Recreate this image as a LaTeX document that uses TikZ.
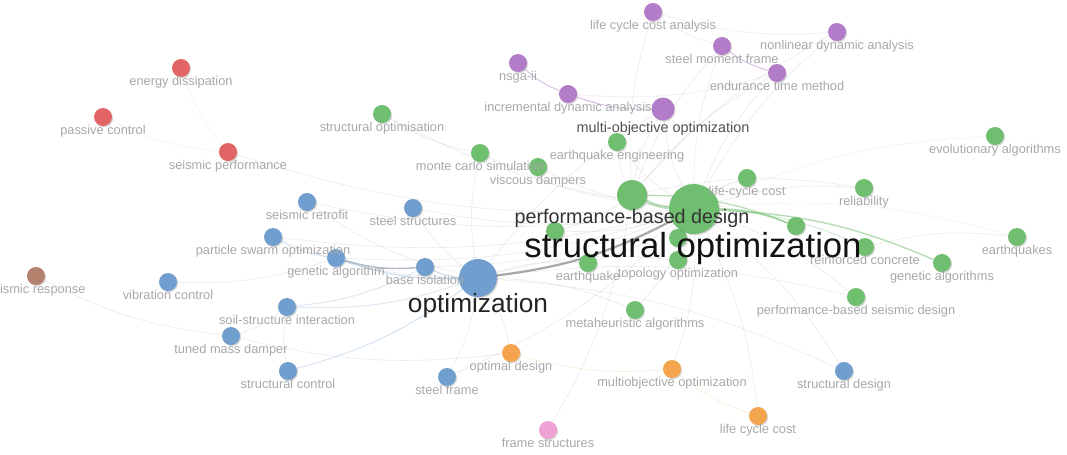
\documentclass[tikz,border=0pt]{standalone}
\usepackage{fontspec}
\setmainfont{Liberation Sans}
\usetikzlibrary{shadows}

% cluster colours
\definecolor{cred}{RGB}{226,100,100}
\definecolor{cpurple}{RGB}{178,124,200}
\definecolor{cgreen}{RGB}{112,190,112}
\definecolor{cblue}{RGB}{112,158,206}
\definecolor{corange}{RGB}{244,164,76}
\definecolor{cpink}{RGB}{238,162,212}
\definecolor{cbrown}{RGB}{180,130,108}
\definecolor{labgray}{RGB}{168,168,168}
\definecolor{edgegray}{RGB}{190,190,190}

\pgfdeclarelayer{edges}
\pgfsetlayers{edges,main}

\begin{document}
\begin{tikzpicture}[x=0.75pt,y=-0.75pt,
  kw/.style={circle,inner sep=0pt,minimum size=13.5pt,
    drop shadow={shadow xshift=0.8pt,shadow yshift=-0.9pt,opacity=0.16,fill=black}},
  kmo/.style={kw,minimum size=17.25pt},
  kpb/.style={kw,minimum size=22.5pt},
  kop/.style={kw,minimum size=28.5pt},
  kso/.style={kw,minimum size=37.5pt},
  lab/.style={anchor=base,inner sep=0pt,yshift=-13.1pt,text=labgray,
    font=\fontsize{9.6}{11}\selectfont},
  labmo/.style={anchor=base,inner sep=0pt,yshift=-17.25pt,text=black!68,
    font=\fontsize{10.8}{12}\selectfont},
  labpb/.style={anchor=base,inner sep=0pt,yshift=-21pt,text=black!80,
    font=\fontsize{14.8}{17}\selectfont},
  labop/.style={anchor=base,inner sep=0pt,yshift=-25.5pt,text=black!86,
    font=\fontsize{19.7}{22}\selectfont},
  labso/.style={anchor=base,inner sep=0pt,yshift=-36pt,xshift=-0.75pt,text=black!93,
    font=\fontsize{26}{30}\selectfont},
  e/.style={draw=edgegray,draw opacity=0.33,line width=0.45pt,bend right=10},
  er/.style={e,draw=cred,draw opacity=0.1},
  ep/.style={e,draw=cpurple,draw opacity=0.5,line width=0.7pt},
  eg/.style={e,draw=cgreen,draw opacity=0.5,line width=1.1pt},
  eb/.style={e,draw=cblue,draw opacity=0.4,line width=0.8pt},
  eo/.style={e,draw=corange,draw opacity=0.18,line width=0.6pt},
]
\useasboundingbox (0,0) rectangle (1067,454);

% ---- red cluster
\node[kw,fill=cred] (ed) at (181,68) {};
\node[kw,fill=cred] (pc) at (103,117) {};
\node[kw,fill=cred] (sp) at (228,152) {};

% ---- purple cluster
\node[kw,fill=cpurple] (lcca) at (653,12) {};
\node[kw,fill=cpurple] (smf) at (722,46) {};
\node[kw,fill=cpurple] (nda) at (837,32) {};
\node[kw,fill=cpurple] (etm) at (777,73) {};
\node[kw,fill=cpurple] (nsga) at (518,63) {};
\node[kw,fill=cpurple] (ida) at (568,94) {};
\node[kmo,fill=cpurple] (moo) at (663,109) {};

% ---- green cluster
\node[kw,fill=cgreen] (sop) at (382,114) {};
\node[kw,fill=cgreen] (mcs) at (480,153) {};
\node[kw,fill=cgreen] (vd) at (538,167) {};
\node[kw,fill=cgreen] (eqe) at (617,142) {};
\node[kw,fill=cgreen] (lcc) at (747,178) {};
\node[kw,fill=cgreen] (rel) at (864,188) {};
\node[kw,fill=cgreen] (eva) at (995,136) {};
\node[kw,fill=cgreen] (eqs) at (1017,237) {};
\node[kw,fill=cgreen] (rc) at (865,247) {};
\node[kw,fill=cgreen] (gas) at (942,263) {};
\node[kw,fill=cgreen] (g1) at (796,226) {};
\node[kw,fill=cgreen] (g2) at (555,231) {};
\node[kw,fill=cgreen] (g3) at (678,238) {};
\node[kw,fill=cgreen] (eq) at (588,263) {};
\node[kw,fill=cgreen] (topo) at (678,260) {};
\node[kw,fill=cgreen] (meta) at (635,310) {};
\node[kw,fill=cgreen] (pbsd) at (856,297) {};
\node[kpb,fill=cgreen] (pbd) at (632,195) {};
\node[kso,fill=cgreen] (so) at (694,209) {};

% ---- blue cluster
\node[kw,fill=cblue] (sr) at (307,202) {};
\node[kw,fill=cblue] (sst) at (413,208) {};
\node[kw,fill=cblue] (pso) at (273,237) {};
\node[kw,fill=cblue] (ga) at (336,258) {};
\node[kw,fill=cblue] (vc) at (168,282) {};
\node[kw,fill=cblue] (bi) at (425,267) {};
\node[kw,fill=cblue] (ssi) at (287,307) {};
\node[kw,fill=cblue] (tmd) at (231,336) {};
\node[kw,fill=cblue] (sc) at (288,371) {};
\node[kw,fill=cblue] (sf) at (447,377) {};
\node[kw,fill=cblue] (sd) at (844,371) {};
\node[kop,fill=cblue] (opt) at (478,278) {};

% ---- orange, pink and brown clusters
\node[kw,fill=corange] (od) at (511,353) {};
\node[kw,fill=corange] (mooo) at (672,369) {};
\node[kw,fill=corange] (lcco) at (758,416) {};
\node[kw,fill=cpink] (fs) at (548,430) {};
\node[kw,fill=cbrown] (sres) at (36,276) {};

% ---- links
\begin{pgfonlayer}{edges}
\draw[er] (ed) to (sp);
\draw[er] (pc) to (sp);
\draw[e] (sp) to (so);
\draw[e] (sop) to (so);
\draw[e] (sop) to (mcs);
\draw[e] (mcs) to (so);
\draw[e] (mcs) to (opt);
\draw[e] (vd) to (so);
\draw[e] (eqe) to (so);
\draw[e] (eqe) to (pbd);
\draw[e] (moo) to (so);
\draw[e] (moo) to (pbd);
\draw[e] (moo) to (opt);
\draw[e] (lcca) to (pbd);
\draw[ep,draw opacity=0.13] (lcca) to (nda);
\draw[ep,draw opacity=0.13] (lcca) to (smf);
\draw[ep] (smf) to (etm);
\draw[e] (smf) to (so);
\draw[e] (smf) to (pbd);
\draw[e] (nda) to (so);
\draw[e] (nda) to (pbd);
\draw[e] (etm) to (so);
\draw[e] (etm) to (pbd);
\draw[ep] (nsga) to (ida);
\draw[ep] (ida) to (moo);
\draw[ep,draw opacity=0.13] (ida) to (etm);
\draw[eg,draw opacity=0.28,line width=0.6pt] (lcc) to (so);
\draw[eg,draw opacity=0.18,line width=0.5pt] (rel) to (so);
\draw[e] (rel) to (pbd);
\draw[eg,draw opacity=0.13,line width=0.5pt] (eva) to (so);
\draw[eg,draw opacity=0.13,line width=0.5pt] (eqs) to (so);
\draw[e] (eqs) to (rc);
\draw[eg,draw opacity=0.32,line width=0.7pt] (rc) to (so);
\draw[eg] (gas) to (so);
\draw[eg] (g1) to (so);
\draw[eg,line width=0.9pt] (g1) to (pbd);
\draw[eg,line width=2.2pt] (pbd) to (so);
\draw[e] (pbsd) to (so);
\draw[e] (pbsd) to (opt);
\draw[e] (meta) to (so);
\draw[e] (meta) to (opt);
\draw[e] (eq) to (so);
\draw[e] (eq) to (opt);
\draw[e] (topo) to (so);
\draw[e] (topo) to (opt);
\draw[e] (g2) to (so);
\draw[e] (g2) to (pbd);
\draw[e] (g3) to (so);
\draw[e] (sr) to (so);
\draw[e] (sr) to (opt);
\draw[e] (sst) to (so);
\draw[e] (sst) to (opt);
\draw[eb,draw opacity=0.28] (pso) to (ga);
\draw[e] (pso) to (so);
\draw[e] (pso) to (opt);
\draw[eb,line width=1.1pt,draw=black!45!cblue] (ga) to (bi);
\draw[eb] (ga) to (opt);
\draw[e] (ga) to (so);
\draw[eb] (bi) to (opt);
\draw[e] (bi) to (so);
\draw[e,line width=1.7pt,draw=black!45,draw opacity=0.75] (opt) to (so);
\draw[eb,draw opacity=0.13] (vc) to (ga);
\draw[e] (sres) to (tmd);
\draw[eb,draw opacity=0.22] (ssi) to (opt);
\draw[eb,draw opacity=0.22] (ssi) to (bi);
\draw[e] (ssi) to (sc);
\draw[e] (tmd) to (ssi);
\draw[e] (tmd) to (od);
\draw[eb,draw opacity=0.28] (sc) to (opt);
\draw[e] (sf) to (opt);
\draw[e] (sf) to (so);
\draw[e] (sd) to (opt);
\draw[e] (sd) to (so);
\draw[eo] (od) to (mooo);
\draw[eo] (mooo) to (lcco);
\draw[e] (od) to (opt);
\draw[e] (mooo) to (so);
\draw[e] (lcco) to (so);
\draw[e] (fs) to (pbd);
\end{pgfonlayer}

% ---- labels
\node[lab] (ed-l) at (ed) {energy dissipation};
\node[lab] (pc-l) at (pc) {passive control};
\node[lab] (sp-l) at (sp) {seismic performance};
\node[lab] (lcca-l) at (lcca) {life cycle cost analysis};
\node[lab] (smf-l) at (smf) {steel moment frame};
\node[lab] (nda-l) at (nda) {nonlinear dynamic analysis};
\node[lab] (etm-l) at (etm) {endurance time method};
\node[lab] (nsga-l) at (nsga) {nsga-ii};
\node[lab] (ida-l) at (ida) {incremental dynamic analysis};
\node[lab] (sop-l) at (sop) {structural optimisation};
\node[lab] (mcs-l) at (mcs) {monte carlo simulation};
\node[lab] (vd-l) at (vd) {viscous dampers};
\node[lab] (eqe-l) at (eqe) {earthquake engineering};
\node[lab] (lcc-l) at (lcc) {life-cycle cost};
\node[lab] (rel-l) at (rel) {reliability};
\node[lab] (eva-l) at (eva) {evolutionary algorithms};
\node[lab] (eqs-l) at (eqs) {earthquakes};
\node[lab] (rc-l) at (rc) {reinforced concrete};
\node[lab] (gas-l) at (gas) {genetic algorithms};
\node[lab] (eq-l) at (eq) {earthquake};
\node[lab] (topo-l) at (topo) {topology optimization};
\node[lab] (meta-l) at (meta) {metaheuristic algorithms};
\node[lab] (pbsd-l) at (pbsd) {performance-based seismic design};
\node[lab] (sr-l) at (sr) {seismic retrofit};
\node[lab] (sst-l) at (sst) {steel structures};
\node[lab] (pso-l) at (pso) {particle swarm optimization};
\node[lab] (ga-l) at (ga) {genetic algorithm};
\node[lab] (vc-l) at (vc) {vibration control};
\node[lab] (bi-l) at (bi) {base isolation};
\node[lab] (ssi-l) at (ssi) {soil-structure interaction};
\node[lab] (tmd-l) at (tmd) {tuned mass damper};
\node[lab] (sc-l) at (sc) {structural control};
\node[lab] (sf-l) at (sf) {steel frame};
\node[lab] (sd-l) at (sd) {structural design};
\node[lab] (od-l) at (od) {optimal design};
\node[lab] (mooo-l) at (mooo) {multiobjective optimization};
\node[lab] (lcco-l) at (lcco) {life cycle cost};
\node[lab] (fs-l) at (fs) {frame structures};
\node[lab] (sres-l) at (sres) {seismic response};
\node[labmo] (moo-l) at (moo) {multi-objective optimization};
\node[labpb] (pbd-l) at (pbd) {performance-based design};
\node[labop] (opt-l) at (opt) {optimization};
\node[labso] (so-l) at (so) {structural optimization};
\end{tikzpicture}
\end{document}
